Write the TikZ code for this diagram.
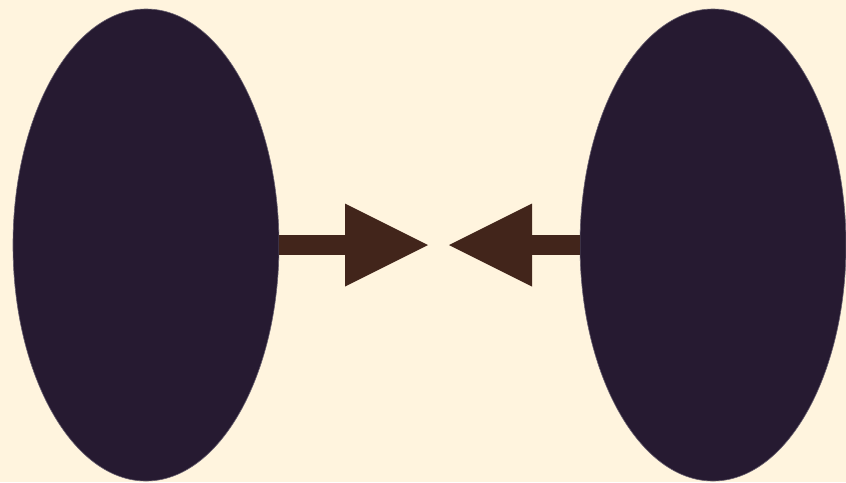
\documentclass[tikz,border=0pt]{standalone}
\usetikzlibrary{shapes.geometric,arrows.meta}
\definecolor{bg}{HTML}{FFF4DE}
\definecolor{blob}{HTML}{261A31}
\definecolor{arr}{HTML}{42251B}
\begin{document}
\begin{tikzpicture}[x=1pt,y=-1pt,
  blobnode/.style={ellipse,fill=blob,draw=blob!70!white,line width=0.6pt,inner sep=0pt,minimum width=266pt,minimum height=472pt},
  bigarrow/.style={draw=arr,line width=20pt,line cap=butt,-{Triangle[length=83pt,width=83pt,line width=0pt,fill=arr]}}]
\fill[bg] (0,0) rectangle (846,482);
\useasboundingbox (0,0) rectangle (846,482);
\node[blobnode] (L) at (146,245) {};
\node[blobnode] (R) at (713,245) {};
\coordinate (lt) at (428,245);
\coordinate (rt) at (449,245);
\draw[bigarrow] (L.east) -- (lt);
\draw[bigarrow] (R.west) -- (rt);
\end{tikzpicture}
\end{document}
